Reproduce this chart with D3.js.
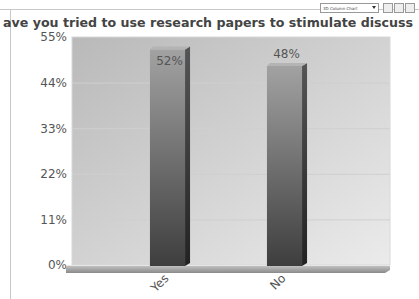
<!DOCTYPE html>
<html>
<head>
<meta charset="utf-8">
<script src="https://cdn.jsdelivr.net/npm/d3@7"></script>
<style>
  body { margin: 0; background: #fff; overflow: hidden; }
  svg { display: block; font-family: "DejaVu Sans", Verdana, sans-serif; }
</style>
</head>
<body>
<svg id="chart" width="419" height="299"></svg>
<script>
// the title is clipped in the original; only the visible part is kept
const title = "ave you tried to use research papers to stimulate discuss"
const categories = ["Yes", "No"]
const values = [52, 48]
const tickValues = [0, 11, 22, 33, 44, 55]

const svg = d3.select("#chart")
const defs = svg.append("defs")

// plot background gradient
const bg = defs.append("linearGradient").attr("id", "bg")
    .attr("x1", 0).attr("y1", 0).attr("x2", 1).attr("y2", 1)
bg.append("stop").attr("offset", "0%").attr("stop-color", "#b9b9b9")
bg.append("stop").attr("offset", "100%").attr("stop-color", "#ebebeb")

const front = defs.append("linearGradient").attr("id", "front")
    .attr("x1", 0).attr("y1", 0).attr("x2", 0).attr("y2", 1)
front.append("stop").attr("offset", "0%").attr("stop-color", "#a2a2a2")
front.append("stop").attr("offset", "100%").attr("stop-color", "#3e3e3e")

const side = defs.append("linearGradient").attr("id", "side")
    .attr("x1", 0).attr("y1", 0).attr("x2", 0).attr("y2", 1)
side.append("stop").attr("offset", "0%").attr("stop-color", "#555")
side.append("stop").attr("offset", "100%").attr("stop-color", "#222")

const floorG = defs.append("linearGradient").attr("id", "floor")
    .attr("x1", 0).attr("y1", 0).attr("x2", 0).attr("y2", 1)
floorG.append("stop").attr("offset", "0%").attr("stop-color", "#c8c8c8")
floorG.append("stop").attr("offset", "100%").attr("stop-color", "#8a8a8a")

// frame lines
svg.append("line").attr("x1", 0).attr("x2", 419).attr("y1", 9.5).attr("y2", 9.5)
    .attr("stroke", "#c8c8c8")
svg.append("line").attr("x1", 10.5).attr("x2", 10.5).attr("y1", 9).attr("y2", 299)
    .attr("stroke", "#c8c8c8")

const y = d3.scaleLinear().domain([0, 55]).range([265, 37])
const x = d3.scaleBand().domain(categories).range([109, 343])
    .paddingInner(0.7).paddingOuter(0.35)

const left = 72, right = 390
// plot background
svg.append("rect").attr("x", left).attr("y", y(55)).attr("width", right - left)
    .attr("height", y(0) - y(55)).attr("fill", "url(#bg)")
    .attr("stroke", "#d8d8d8")

// gridlines
svg.append("g").selectAll("line").data(tickValues.filter(d => d > 0 && d < 55)).join("line")
    .attr("x1", left).attr("x2", right)
    .attr("y1", d => y(d) + 0.5).attr("y2", d => y(d) + 0.5)
    .attr("stroke", "#cfcfcf")

// y axis labels
const yAxis = d3.axisLeft(y).tickValues(tickValues).tickFormat(d => d + "%").tickSize(0).tickPadding(3)
const ya = svg.append("g").attr("transform", `translate(${left - 2},0)`).call(yAxis)
ya.select(".domain").remove()
ya.selectAll("text").attr("fill", "#555").style("font-size", "12px")
    .style("font-family", "DejaVu Sans, sans-serif")

// floor
svg.append("path")
    .attr("d", `M${left - 6},${y(0)} L${right},${y(0)} L${right},${y(0) + 5} L${right - 5},${y(0) + 8} L${left - 6},${y(0) + 8} Z`)
    .attr("fill", "url(#floor)")
svg.append("line").attr("x1", left - 6).attr("x2", right).attr("y1", y(0) + 0.5).attr("y2", y(0) + 0.5)
    .attr("stroke", "#e6e6e6")

// bars
const depth = 5
const bars = svg.append("g").selectAll("g").data(values).join("g")
bars.append("rect")
    .attr("x", (d, i) => x(categories[i]))
    .attr("y", d => y(d))
    .attr("width", x.bandwidth())
    .attr("height", d => y(0) - y(d) + 1)
    .attr("fill", "url(#front)")
bars.append("path")
    .attr("d", (d, i) => {
        const x0 = x(categories[i]) + x.bandwidth(), y0 = y(d)
        return `M${x0},${y0} L${x0 + depth},${y0 - 3} L${x0 + depth},${y(0) - 2} L${x0},${y(0) + 1} Z`
    })
    .attr("fill", "url(#side)")
bars.append("path")
    .attr("d", (d, i) => {
        const x0 = x(categories[i]), y0 = y(d), w = x.bandwidth()
        return `M${x0},${y0} L${x0 + 3},${y0 - 3} L${x0 + w + depth},${y0 - 3} L${x0 + w},${y0} Z`
    })
    .attr("fill", "#b4b4b4")

// value labels
bars.append("text")
    .attr("x", (d, i) => x(categories[i]) + x.bandwidth() / 2 + 2)
    .attr("y", (d, i) => i === 0 ? y(d) + 16 : y(d) - 8)
    .attr("text-anchor", "middle")
    .attr("fill", "#555")
    .style("font-size", "12px")
    .text(d => d + "%")

// x labels
svg.append("g").selectAll("text").data(categories).join("text")
    .attr("transform", d => `translate(${x(d) + x.bandwidth() / 2 + 2},${y(0) + 14}) rotate(-45)`)
    .attr("text-anchor", "end")
    .attr("fill", "#555")
    .style("font-size", "12px")
    .text(d => d)

// title
svg.append("text").attr("x", 3).attr("y", 27)
    .attr("fill", "#444").style("font-size", "12.5px").style("font-weight", "bold")
    .attr("textLength", 410).attr("lengthAdjust", "spacingAndGlyphs")
    .text(title)

// type selector and buttons
const ctl = svg.append("g")
ctl.append("rect").attr("x", 320.5).attr("y", 3.5).attr("width", 58).attr("height", 9)
    .attr("fill", "#fff").attr("stroke", "#999")
ctl.append("text").attr("x", 323).attr("y", 10).style("font-size", "4px").attr("fill", "#444")
    .text("3D Column Chart")
ctl.append("path").attr("d", "M372,6 L376,6 L374,9 Z").attr("fill", "#333")
ctl.selectAll(".btn").data([0, 1, 2]).join("rect").attr("class", "btn")
    .attr("x", d => 383.5 + d * 11).attr("y", 3.5).attr("width", 9).attr("height", 9)
    .attr("fill", "#eee").attr("stroke", "#999")
</script>
</body>
</html>
